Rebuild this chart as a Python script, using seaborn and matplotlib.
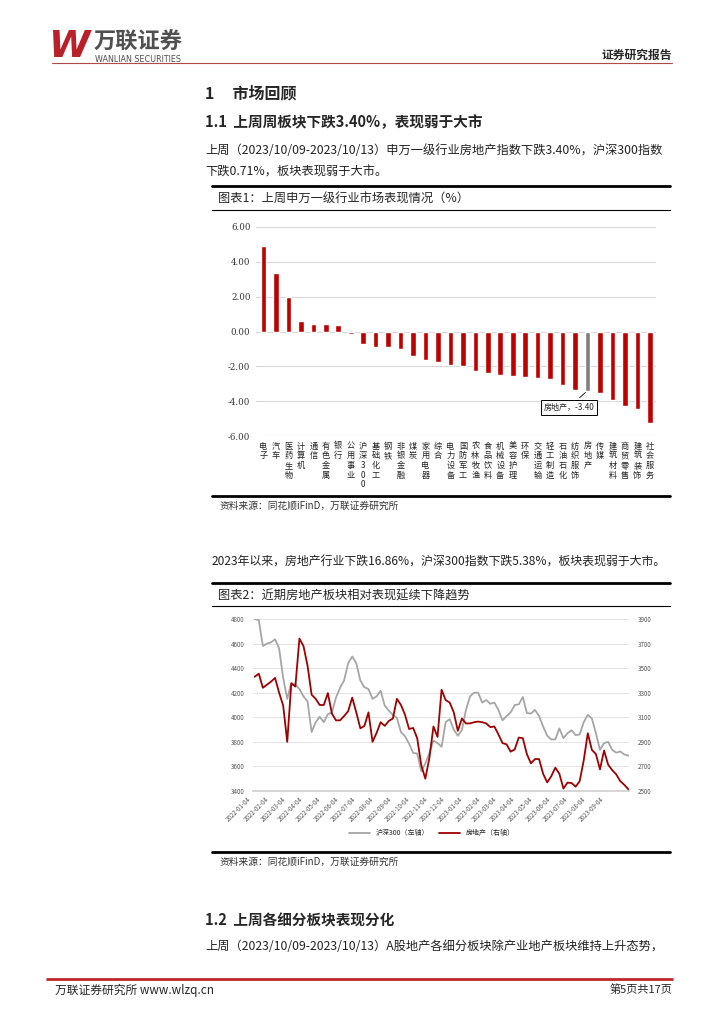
import pandas as pd
import matplotlib.pyplot as plt
import matplotlib.dates as mdates
from matplotlib.lines import Line2D
import seaborn as sns

# ---- chart 1: weekly change of SW level-1 industries (%)
industries = ['电子', '汽车', '医药生物', '计算机', '通信', '有色金属', '银行', '公用事业',
              '沪深300', '基础化工', '钢铁', '非银金融', '煤炭', '家用电器', '综合', '电力设备',
              '国防军工', '农林牧渔', '食品饮料', '机械设备', '美容护理', '环保', '交通运输', '轻工制造',
              '石油石化', '纺织服饰', '房地产', '传媒', '建筑材料', '商贸零售', '建筑装饰', '社会服务']
weekly_chg = [4.89, 3.37, 1.97, 0.63, 0.44, 0.44, 0.35, -0.17,
              -0.71, -0.90, -0.90, -0.98, -1.38, -1.61, -1.76, -1.95,
              -1.99, -2.24, -2.36, -2.49, -2.57, -2.62, -2.68, -2.74,
              -3.08, -3.35, -3.40, -3.52, -3.94, -4.27, -4.46, -5.27]
y1_ticks = [6, 4, 2, 0, -2, -4, -6]

# ---- chart 2: CSI300 (left) vs SW real estate (right), weekly read-off
start_date = '2022-01-07'
hs300 = [4800, 4790, 4580, 4600, 4610, 4635, 4560, 4320, 4150, 4280,
         4265, 4230, 4170, 4130, 3880, 3960, 4005, 3960, 4025, 4040,
         4160, 4240, 4300, 4440, 4495, 4440, 4300, 4245, 4230, 4150,
         4170, 4215, 4095, 4055, 4020, 3995, 3880, 3845, 3785, 3710,
         3705, 3560, 3625, 3710, 3810, 3790, 3760, 3960, 3985, 3900,
         3850, 3895, 4060, 4170, 4200, 4200, 4120, 4140, 4110, 4120,
         4060, 3975, 4010, 4040, 4100, 4105, 4165, 4035, 4030, 4060,
         4010, 3925, 3850, 3820, 3820, 3910, 3830, 3870, 3895, 3855,
         3860, 3960, 4020, 3990, 3870, 3735, 3790, 3800, 3735, 3712,
         3722, 3697, 3688]
realestate = [3430, 3455, 3340, 3365, 3390, 3420, 3300, 3195, 2900, 3375,
              3350, 3740, 3680, 3520, 3284, 3250, 3200, 3200, 3297, 3130,
              3075, 3075, 3110, 3150, 3260, 3140, 3010, 3030, 3140, 2900,
              2973, 3060, 3030, 3070, 3090, 3250, 3200, 3120, 3005, 3013,
              2930, 2710, 2600, 2770, 3025, 2940, 3324, 3240, 3220, 3140,
              2990, 3090, 3050, 3050, 3060, 3065, 3060, 3050, 3020, 3025,
              2960, 2890, 2880, 2820, 2838, 2935, 2930, 2800, 2725, 2760,
              2760, 2640, 2570, 2620, 2690, 2640, 2520, 2568, 2565, 2535,
              2580, 2750, 2970, 2835, 2800, 2676, 2830, 2715, 2670, 2635,
              2580, 2550, 2513]
left_ticks = [3400, 3600, 3800, 4000, 4200, 4400, 4600, 4800]
right_ticks = [2500, 2700, 2900, 3100, 3300, 3500, 3700, 3900]

W, H = 724, 1024
CJK = ['Noto Sans CJK SC', 'DejaVu Sans']
RED = '#C00000'
BODY = 8.8

sns.set_theme(style='white')
plt.rcParams['font.family'] = CJK
plt.rcParams['axes.unicode_minus'] = False

fig = plt.figure(figsize=(W / 100, H / 100), dpi=100)


def rect(x0, y0, x1, y1):
    return [x0 / W, 1 - y1 / H, (x1 - x0) / W, (y1 - y0) / H]


def txt(x, y, s, **kw):
    kw.setdefault('va', 'center')
    fig.text(x / W, 1 - y / H, s, **kw)


def hline(x0, x1, y, lw=1.0, color='black'):
    fig.add_artist(Line2D([x0 / W, x1 / W], [1 - y / H, 1 - y / H], lw=lw, color=color,
                          transform=fig.transFigure))


# ---- page header
txt(49, 47, 'W', fontsize=27, color='#B8202A', weight='bold', style='italic', family='DejaVu Sans')
txt(94, 42, '万联证券', fontsize=16, color='#505050', weight='bold')
txt(95, 59, 'WANLIAN SECURITIES', fontsize=5.8, color='#505050', family='DejaVu Sans')
txt(672, 55, '证券研究报告', fontsize=8.5, weight='bold', ha='right')
hline(52, 672, 63, lw=0.8, color='#B04A4A')

txt(205, 93, '1     市场回顾', fontsize=11.5, weight='bold')
txt(205, 122, '1.1  上周周板块下跌3.40%，表现弱于大市', fontsize=10.5, weight='bold')
txt(205, 150, '上周（2023/10/09-2023/10/13）申万一级行业房地产指数下跌3.40%，沪深300指数',
    fontsize=BODY, color='#222222')
txt(205, 172, '下跌0.71%，板块表现弱于大市。', fontsize=BODY, color='#222222')

# ---- chart 1 frame
hline(212, 670, 186, lw=2.0)
txt(218, 199, '图表1：上周申万一级行业市场表现情况（%）', fontsize=8.8)
hline(212, 670, 210, lw=0.8)
hline(212, 670, 496, lw=2.0)
txt(220, 506, '资料来源：同花顺iFinD，万联证券研究所', fontsize=7, style='italic', color='#333333')

df1 = pd.DataFrame({'industry': industries, 'chg': weekly_chg})
bar_colors = ['#808080' if c == '房地产' else RED for c in industries]
ax1 = fig.add_axes(rect(256, 227, 656, 436))
sns.barplot(data=df1, x='industry', y='chg', hue='industry', palette=bar_colors,
            width=0.45, dodge=False, saturation=1, legend=False, ax=ax1, zorder=3)
ax1.set_ylim(-6, 6)
ax1.set_xlim(-0.6, len(industries) - 0.5)
ax1.set_yticks(y1_ticks)
ax1.set_yticklabels([f'{v:.2f}' for v in y1_ticks], fontsize=6.2, color='#333333',
                    family='DejaVu Serif')
ax1.yaxis.grid(True, color='#D9D9D9', lw=0.8)
ax1.set_xticks(range(len(industries)))
ax1.set_xticklabels(['\n'.join(c) for c in industries], fontsize=5.9, va='top',
                    linespacing=1.1, color='#222222')
ax1.tick_params(axis='both', length=0, pad=4)
ax1.set_xlabel('')
ax1.set_ylabel('')
for s in ax1.spines.values():
    s.set_visible(False)
i_re = industries.index('房地产')
ax1.annotate(f'房地产，{weekly_chg[i_re]:.2f}', xy=(i_re, weekly_chg[i_re]),
             xytext=(i_re - 1.5, weekly_chg[i_re] - 0.95), fontsize=5.8,
             ha='center', va='center',
             bbox=dict(boxstyle='square,pad=0.35', fc='white', ec='black', lw=0.7),
             arrowprops=dict(arrowstyle='-', color='black', lw=0.6))

txt(212, 562, '2023年以来，房地产行业下跌16.86%，沪深300指数下跌5.38%，板块表现弱于大市。',
    fontsize=8.6, color='#222222')

# ---- chart 2 frame
hline(212, 670, 583, lw=2.0)
txt(218, 596, '图表2：近期房地产板块相对表现延续下降趋势', fontsize=8.8)
hline(212, 670, 606, lw=0.8)
hline(212, 670, 852, lw=2.0)
txt(220, 862, '资料来源：同花顺iFinD，万联证券研究所', fontsize=7, style='italic', color='#333333')

dates = pd.date_range(start_date, periods=len(hs300), freq='7D')
df2 = pd.DataFrame({'date': dates, 'hs300': hs300, 're': realestate})

ax2 = fig.add_axes(rect(253, 619, 629, 791))
sns.lineplot(data=df2, x='date', y='hs300', color='#A6A6A6', lw=1.3, ax=ax2)
ax2.set_ylim(3400, 4800)
ax2.set_yticks(left_ticks)
ax2.set_yticklabels([str(v) for v in left_ticks], fontsize=4.5, color='#555555')
ax2.yaxis.grid(True, color='#E3E3E3', lw=0.7)
ax2.set_xlim(dates[0] - pd.Timedelta(days=3), dates[-1] + pd.Timedelta(days=1))
ax3 = ax2.twinx()
sns.lineplot(data=df2, x='date', y='re', color='#A00000', lw=1.3, ax=ax3)
ax3.set_ylim(2500, 3900)
ax3.set_yticks(right_ticks)
ax3.set_yticklabels([str(v) for v in right_ticks], fontsize=4.5, color='#555555')
x_ticks = pd.date_range('2022-01-01', '2023-09-01', freq='MS') + pd.Timedelta(days=3)
ax2.set_xticks(x_ticks)
ax2.xaxis.set_major_formatter(mdates.DateFormatter('%Y-%m-%d'))
for lab in ax2.get_xticklabels():
    lab.set_rotation(45)
    lab.set_ha('right')
    lab.set_fontsize(4.5)
    lab.set_color('#555555')
for a in (ax2, ax3):
    a.set_xlabel('')
    a.set_ylabel('')
    a.tick_params(length=0, pad=6)
    for s in a.spines.values():
        s.set_visible(False)
ax2.spines['bottom'].set_visible(True)
ax2.spines['bottom'].set_color('#D0D0D0')
ax2.tick_params(axis='x', length=2, color='#D0D0D0', pad=1)

handles = [Line2D([], [], color='#A6A6A6', lw=1.3), Line2D([], [], color='#A00000', lw=1.3)]
fig.legend(handles, ['沪深300（左轴）', '房地产（右轴）'], loc='center',
           bbox_to_anchor=(432 / W, 1 - 833 / H), ncol=2, frameon=False, fontsize=5,
           handlelength=3, columnspacing=1.5)

# ---- section 1.2 and footer
txt(205, 920, '1.2  上周各细分板块表现分化', fontsize=10.5, weight='bold')
txt(205, 947, '上周（2023/10/09-2023/10/13）A股地产各细分板块除产业地产板块维持上升态势，',
    fontsize=BODY, color='#222222')
hline(47, 672, 979, lw=2.0, color='#C0272D')
txt(55, 990, '万联证券研究所 www.wlzq.cn', fontsize=8.5)
txt(672, 990, '第5页共17页', fontsize=8, ha='right')

fig.savefig('out.png', dpi=100)
